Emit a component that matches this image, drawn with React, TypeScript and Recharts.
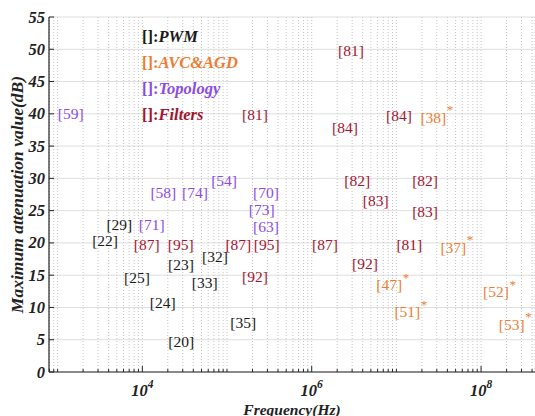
import React from "react";
import {
  ScatterChart,
  Scatter,
  XAxis,
  YAxis,
  CartesianGrid,
  Legend,
} from "recharts";

const FONT = '"Liberation Serif", "Times New Roman", serif';
const AXIS = "#262626";

const COLORS = {
  pwm: "#1a1a1a",
  avc: "#ED7D31",
  topo: "#8B4BE6",
  filter: "#A2142F",
};

// PWM
const pwmRefs = ["[29]", "[22]", "[25]", "[23]", "[24]", "[20]", "[32]", "[33]", "[35]"];
const pwmFreq = [5350, 3630, 8650, 28600, 17400, 28800, 72100, 54600, 155600];
const pwmAtten = [22.8, 20.3, 14.7, 16.7, 10.7, 4.7, 17.9, 13.8, 7.7];

// AVC & AGD
const avcRefs = ["[38]", "[37]", "[47]", "[51]", "[52]", "[53]"];
const avcFreq = [2.73e7, 4.7e7, 8.24e6, 1.346e7, 1.5e8, 2.3e8];
const avcAtten = [39.5, 19.3, 13.5, 9.3, 12.4, 7.4];

// Topology
const topoRefs = ["[59]", "[58]", "[74]", "[54]", "[70]", "[73]", "[63]", "[71]"];
const topoFreq = [1430, 17700, 41900, 92300, 288600, 257000, 288600, 12910];
const topoAtten = [40, 27.8, 27.8, 29.7, 27.8, 25.2, 22.5, 22.8];

// Filters
const filterRefs = [
  "[81]", "[81]", "[84]", "[84]", "[82]", "[82]", "[83]", "[83]",
  "[87]", "[95]", "[87]", "[95]", "[87]", "[92]", "[92]", "[81]",
];
const filterFreq = [
  2.91e6, 214000, 2.47e6, 1.074e7, 3.45e6, 2.18e7, 5.7e6, 2.18e7,
  11270, 28380, 135900, 294000, 1.435e6, 214000, 4.26e6, 1.42e7,
];
const filterAtten = [
  49.8, 39.9, 37.9, 39.7, 29.7, 29.7, 26.6, 24.8,
  19.7, 19.7, 19.7, 19.7, 19.7, 14.8, 16.8, 19.7,
];

const legendOrder = ["PWM", "AVC&AGD", "Topology", "Filters"];

const X_DOMAIN = [791, 4.33e8];
const xDecades = [1e2, 1e3, 1e4, 1e5, 1e6, 1e7, 1e8];
const xMultipliers = [1, 2, 3, 4, 5, 6, 7, 8, 9];
const xLabeled = [1e4, 1e6, 1e8];
const yTicks = [0, 5, 10, 15, 20, 25, 30, 35, 40, 45, 50, 55];

const xTicks = xDecades
  .flatMap((d) => xMultipliers.map((m) => m * d))
  .filter((v) => v >= X_DOMAIN[0] && v <= X_DOMAIN[1]);

const toRows = (refs: string[], freq: number[], atten: number[]) =>
  refs.map((ref, i) => ({ ref, freq: freq[i], atten: atten[i] }));

function RefLabel(props: any) {
  const { cx, cy, payload, color, star } = props;
  if (cx == null || cy == null) return null;
  return (
    <g>
      <text
        x={cx}
        y={cy + 5.5}
        textAnchor="middle"
        fontFamily={FONT}
        fontSize={15.5}
        fill={color}
      >
        {payload.ref}
      </text>
      {star && (
        <text x={cx + 13.5} y={cy - 3} fontFamily={FONT} fontSize={13} fill={color}>
          *
        </text>
      )}
    </g>
  );
}

const isMajor = (v: number) => xLabeled.some((m) => Math.abs(m - v) < 1e-6 * m);

function BottomTick({ x, y, payload }: any) {
  const v = payload.value;
  const major = isMajor(v);
  return (
    <g>
      <line x1={x} x2={x} y1={y} y2={y - (major ? 6 : 3)} stroke={AXIS} />
      {major && (
        <text
          x={x}
          y={y + 24}
          textAnchor="middle"
          fontFamily={FONT}
          fontSize={16.5}
          fontWeight="bold"
          fontStyle="italic"
          fill="#222"
        >
          <tspan>10</tspan>
          <tspan dy={-8} fontSize={11.5}>
            {Math.round(Math.log10(v))}
          </tspan>
        </text>
      )}
    </g>
  );
}

function TopTick({ x, y, payload }: any) {
  const major = isMajor(payload.value);
  return <line x1={x} x2={x} y1={y} y2={y + (major ? 6 : 3)} stroke={AXIS} />;
}

function LeftTick({ x, y, payload }: any) {
  return (
    <g>
      <line x1={x} x2={x + 5} y1={y} y2={y} stroke={AXIS} />
      <text
        x={x - 4}
        y={y + 5.5}
        textAnchor="end"
        fontFamily={FONT}
        fontSize={16.5}
        fontWeight="bold"
        fontStyle="italic"
        fill="#222"
      >
        {payload.value}
      </text>
    </g>
  );
}

function RightTick({ x, y }: any) {
  return <line x1={x} x2={x - 5} y1={y} y2={y} stroke={AXIS} />;
}

function LegendBox({ payload }: any) {
  const items = [...(payload || [])].sort(
    (a: any, b: any) => legendOrder.indexOf(a.value) - legendOrder.indexOf(b.value)
  );
  return (
    <div
      style={{
        fontFamily: FONT,
        fontSize: 16.5,
        fontWeight: "bold",
        lineHeight: "26px",
        whiteSpace: "nowrap",
      }}
    >
      {items.map((e: any) => (
        <div key={e.value} style={{ color: e.color }}>
          []:<i>{e.value}</i>
        </div>
      ))}
    </div>
  );
}

const YLabel = ({ viewBox }: any) => {
  const cx = viewBox.x + 17;
  const cy = viewBox.y + viewBox.height / 2;
  return (
    <text
      x={cx}
      y={cy}
      transform={`rotate(-90 ${cx} ${cy})`}
      textAnchor="middle"
      dominantBaseline="central"
      fontFamily={FONT}
      fontSize={17.5}
      fontWeight="bold"
      fontStyle="italic"
      fill="#222"
    >
      Maximum attenuation value(dB)
    </text>
  );
};

const XLabel = ({ viewBox }: any) => (
  <text
    x={viewBox.x + viewBox.width / 2}
    y={viewBox.y + 42.5}
    textAnchor="middle"
    fontFamily={FONT}
    fontSize={15.5}
    fontWeight="bold"
    fontStyle="italic"
    fill="#222"
  >
    Frequency(Hz)
  </text>
);

export default function App() {
  return (
    <div style={{ position: "absolute", left: 0, top: 0, width: 535, height: 416, background: "#fff" }}>
      <ScatterChart width={535} height={416} margin={{ top: 17, right: 0, bottom: 0, left: 0 }}>
        <CartesianGrid horizontal={true} vertical={false} stroke="#dedede" />
        <CartesianGrid horizontal={false} vertical={true} stroke="#c4c4c4" strokeDasharray="1 2" />
        <XAxis
          dataKey="freq"
          type="number"
          scale="log"
          domain={X_DOMAIN}
          allowDataOverflow
          ticks={xTicks}
          interval={0}
          height={44}
          tickSize={0}
          tickMargin={0}
          tick={<BottomTick />}
          stroke={AXIS}
          strokeWidth={1.2}
          label={<XLabel />}
        />
        <XAxis
          xAxisId="top"
          orientation="top"
          dataKey="freq"
          type="number"
          scale="log"
          domain={X_DOMAIN}
          allowDataOverflow
          ticks={xTicks}
          interval={0}
          height={0}
          tickSize={0}
          tickMargin={0}
          tick={<TopTick />}
          stroke={AXIS}
          strokeWidth={1.2}
        />
        <YAxis
          dataKey="atten"
          type="number"
          domain={[0, 55]}
          allowDataOverflow
          ticks={yTicks}
          interval={0}
          width={49}
          tickSize={0}
          tickMargin={0}
          tick={<LeftTick />}
          stroke={AXIS}
          strokeWidth={1.2}
          label={<YLabel />}
        />
        <YAxis
          yAxisId="right"
          orientation="right"
          type="number"
          domain={[0, 55]}
          allowDataOverflow
          ticks={yTicks}
          interval={0}
          width={0}
          tickSize={0}
          tickMargin={0}
          tick={<RightTick />}
          stroke={AXIS}
          strokeWidth={1.2}
        />
        <Legend
          layout="vertical"
          align="center"
          verticalAlign="middle"
          content={<LegendBox />}
          wrapperStyle={{ left: 142, top: 24, width: "auto" }}
        />
        <Scatter
          name="PWM"
          data={toRows(pwmRefs, pwmFreq, pwmAtten)}
          fill={COLORS.pwm}
          isAnimationActive={false}
          shape={(p: any) => <RefLabel {...p} color={COLORS.pwm} />}
        />
        <Scatter
          name="AVC&AGD"
          data={toRows(avcRefs, avcFreq, avcAtten)}
          fill={COLORS.avc}
          isAnimationActive={false}
          shape={(p: any) => <RefLabel {...p} color={COLORS.avc} star />}
        />
        <Scatter
          name="Topology"
          data={toRows(topoRefs, topoFreq, topoAtten)}
          fill={COLORS.topo}
          isAnimationActive={false}
          shape={(p: any) => <RefLabel {...p} color={COLORS.topo} />}
        />
        <Scatter
          name="Filters"
          data={toRows(filterRefs, filterFreq, filterAtten)}
          fill={COLORS.filter}
          isAnimationActive={false}
          shape={(p: any) => <RefLabel {...p} color={COLORS.filter} />}
        />
      </ScatterChart>
    </div>
  );
}
